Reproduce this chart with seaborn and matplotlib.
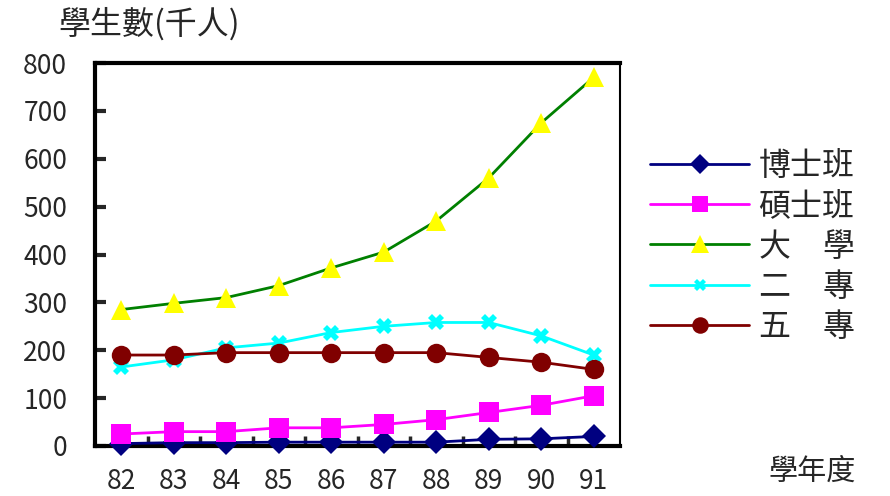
import matplotlib
matplotlib.use("Agg")
import matplotlib.pyplot as plt
import seaborn as sns
import pandas as pd
from matplotlib.ticker import MultipleLocator, FixedLocator

# 學年度 (academic years)
years = ["82", "83", "84", "85", "86", "87", "88", "89", "90", "91"]

# 學生數 (千人) by level
phd = [5, 7, 7, 8, 8, 8, 8, 14, 15, 20]            # 博士班
master = [25, 30, 30, 38, 38, 45, 55, 70, 85, 105]  # 碩士班
univ = [285, 298, 310, 335, 372, 405, 470, 560, 675, 770]  # 大學
junior2 = [165, 180, 205, 215, 237, 250, 258, 258, 230, 190]  # 二專
junior5 = [190, 190, 195, 195, 195, 195, 195, 185, 175, 160]  # 五專

series_names = ["博士班", "碩士班", "大　學", "二　專", "五　專"]
series_values = [phd, master, univ, junior2, junior5]

rows = []
for name, vals in zip(series_names, series_values):
    for i, (yr, v) in enumerate(zip(years, vals)):
        rows.append({"idx": i, "year": yr, "level": name, "students": v})
df = pd.DataFrame(rows)

sns.set_style("white")
plt.rcParams["font.family"] = ["Noto Sans CJK TC", "DejaVu Sans"]

palette = {
    "博士班": "#000080",
    "碩士班": "#ff00ff",
    "大　學": "#008000",
    "二　專": "#00ffff",
    "五　專": "#800000",
}
markers = {
    "博士班": "D",
    "碩士班": "s",
    "大　學": "^",
    "二　專": "X",
    "五　專": "o",
}

fig = plt.figure(figsize=(8.9, 4.96), dpi=100)
ax = fig.add_axes([95 / 890, 1 - 446 / 496, 525 / 890, (446 - 63) / 496])

sns.lineplot(data=df, x="idx", y="students", hue="level", style="level",
             palette=palette, markers=markers, dashes=False,
             hue_order=series_names, style_order=series_names,
             linewidth=2, markersize=13, markeredgewidth=0, ax=ax, legend=False,
             clip_on=False, zorder=3)

# marker face colours (triangle is yellow on a green line)
face = {"博士班": "#000080", "碩士班": "#ff00ff", "大　學": "#ffff00",
        "二　專": "#00ffff", "五　專": "#800000"}
sizes = {"博士班": 12, "碩士班": 14, "大　學": 15, "二　專": 11, "五　專": 14}
for line, name in zip(ax.get_lines(), series_names):
    line.set_markerfacecolor(face[name])
    line.set_markeredgecolor(face[name])
    line.set_markersize(sizes[name])
    line.set_markeredgewidth(0)

ax.set_xlim(-0.5, len(years) - 0.5)
ax.set_ylim(0, 800)
ax.yaxis.set_major_locator(MultipleLocator(100))
ax.set_xticks(range(len(years)))
ax.set_xticklabels(years)
ax.xaxis.set_minor_locator(FixedLocator([i + 0.5 for i in range(len(years) - 1)]))

ax.tick_params(axis="y", which="major", direction="in", length=8, width=3,
               left=True, labelsize=19, pad=20)
ax.tick_params(axis="x", which="major", length=0, labelsize=19, pad=16)
ax.tick_params(axis="x", which="minor", direction="in", length=7, width=2.5,
               bottom=True)
for side in ["left", "bottom", "top", "right"]:
    ax.spines[side].set_visible(True)
    ax.spines[side].set_color("black")
    ax.spines[side].set_linewidth(3)
    ax.spines[side].set_zorder(2)
ax.spines["right"].set_linewidth(1.5)
ax.set_xlabel("")
ax.set_ylabel("")
ax.grid(False)

fig.text(58 / 890, 1 - 24 / 496, "學生數(千人)", fontsize=23, va="center", ha="left")
fig.text(768 / 890, 1 - 472 / 496, "學年度", fontsize=21, va="center", ha="left")

handles = [plt.Line2D([], [], color=palette[n], lw=2, marker=markers[n],
                      markerfacecolor=face[n], markeredgecolor=face[n],
                      markersize=sizes[n] * 0.85, markeredgewidth=0)
           for n in series_names]
fig.legend(handles, series_names, loc="upper left",
           bbox_to_anchor=(650 / 890, 1 - 150 / 496), frameon=False,
           fontsize=23, handlelength=3.1, handletextpad=0.3,
           labelspacing=0.26, borderaxespad=0, borderpad=0)

fig.savefig("out.png", dpi=100)
